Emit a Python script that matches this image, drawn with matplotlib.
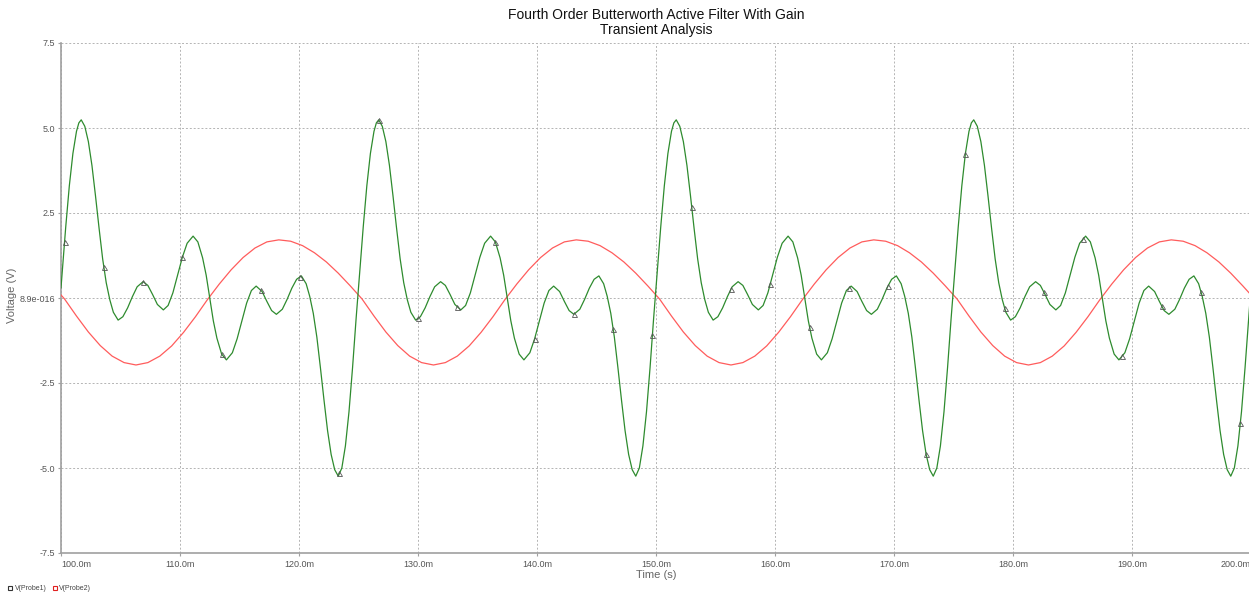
import numpy as np
import matplotlib
matplotlib.use("Agg")
import matplotlib.pyplot as plt
from matplotlib.lines import Line2D

plt.rcParams['font.family'] = ['Liberation Sans', 'DejaVu Sans']

# ---------------- data ----------------
title_text = "Fourth Order Butterworth Active Filter With Gain\nTransient Analysis"
x_label = "Time (s)"
y_label = "Voltage (V)"
series_names = ["V(Probe1)", "V(Probe2)"]

x_ticks = [100, 110, 120, 130, 140, 150, 160, 170, 180, 190, 200]
x_tick_labels = ["100.0m", "110.0m", "120.0m", "130.0m", "140.0m", "150.0m",
                 "160.0m", "170.0m", "180.0m", "190.0m", "200.0m"]
y_ticks = [7.5, 5.0, 2.5, 0.0, -2.5, -5.0, -7.5]
y_tick_labels = ["7.5", "5.0", "2.5", "8.9e-016", "-2.5", "-5.0", "-7.5"]

# Probe1 (filter output, green) - time in ms
green_t = [
    100.0, 100.1, 100.4, 100.7, 101.0, 101.3, 101.5, 101.7, 102.0, 102.3, 102.6, 102.9, 103.2, 103.5, 103.8, 104.1, 104.4,
    104.8, 105.2, 105.6, 106.0, 106.4, 106.9, 107.3, 107.7, 108.1, 108.6, 109.0, 109.4, 109.8, 110.2, 110.6, 111.1, 111.5,
    111.9, 112.2, 112.5, 112.8, 113.1, 113.5, 113.9, 114.4, 114.8, 115.2, 115.6, 116.0, 116.4, 116.9, 117.3, 117.7, 118.1,
    118.6, 119.0, 119.4, 119.8, 120.2, 120.6, 120.9, 121.2, 121.5, 121.8, 122.1, 122.4, 122.7, 123.0,
    123.3, 123.6, 123.9, 124.2, 124.5, 124.8, 125.1, 125.4, 125.7, 126.0, 126.3, 126.5, 126.7, 127.0, 127.3, 127.6, 127.9,
    128.2, 128.5, 128.8, 129.1, 129.4, 129.8, 130.2, 130.6, 131.0, 131.4, 131.9, 132.3, 132.7, 133.1, 133.6, 134.0, 134.4,
    134.8, 135.2, 135.6, 136.1, 136.5, 136.9, 137.2, 137.5, 137.8, 138.1, 138.5, 138.9, 139.4, 139.8, 140.2, 140.6, 141.0,
    141.4, 141.9, 142.3, 142.7, 143.1, 143.6, 144.0, 144.4, 144.8, 145.2, 145.6, 145.9, 146.2, 146.5, 146.8, 147.1, 147.4,
    147.7, 148.0,
    148.3, 148.6, 148.9, 149.2, 149.5, 149.8, 150.1, 150.4, 150.7, 151.0, 151.3, 151.5, 151.7, 152.0, 152.3, 152.6, 152.9,
    153.2, 153.5, 153.8, 154.1, 154.4, 154.8, 155.2, 155.6, 156.0, 156.4, 156.9, 157.3, 157.7, 158.1, 158.6, 159.0, 159.4,
    159.8, 160.2, 160.6, 161.1, 161.5, 161.9, 162.2, 162.5, 162.8, 163.1, 163.5, 163.9, 164.4, 164.8, 165.2, 165.6, 166.0,
    166.4, 166.9, 167.3, 167.7, 168.1, 168.6, 169.0, 169.4, 169.8, 170.2, 170.6, 170.9, 171.2, 171.5, 171.8, 172.1, 172.4,
    172.7, 173.0,
    173.3, 173.6, 173.9, 174.2, 174.5, 174.8, 175.1, 175.4, 175.7, 176.0, 176.3, 176.5, 176.7, 177.0, 177.3, 177.6, 177.9,
    178.2, 178.5, 178.8, 179.1, 179.4, 179.8, 180.2, 180.6, 181.0, 181.4, 181.9, 182.3, 182.7, 183.1, 183.6, 184.0, 184.4,
    184.8, 185.2, 185.6, 186.1, 186.5, 186.9, 187.2, 187.5, 187.8, 188.1, 188.5, 188.9, 189.4, 189.8, 190.2, 190.6, 191.0,
    191.4, 191.9, 192.3, 192.7, 193.1, 193.6, 194.0, 194.4, 194.8, 195.2, 195.6, 195.9, 196.2, 196.5, 196.8, 197.1, 197.4,
    197.7, 198.0,
    198.3, 198.6, 198.9, 199.2, 199.5, 199.8, 200.0,
]
green_v = [
    0.30, 0.75, 2.10, 3.30, 4.25, 4.90, 5.15, 5.24, 5.05, 4.60, 3.90, 3.00, 2.05, 1.15, 0.45, -0.05, -0.42,
    -0.65, -0.55, -0.29, 0.04, 0.33, 0.48, 0.37, 0.10, -0.19, -0.35, -0.22, 0.15, 0.67, 1.20, 1.61, 1.82, 1.65,
    1.18, 0.67, 0.00, -0.67, -1.18, -1.65, -1.82, -1.61, -1.20, -0.67, -0.15, 0.22, 0.35, 0.19, -0.10, -0.37, -0.48,
    -0.33, -0.04, 0.29, 0.55, 0.65, 0.42, 0.05, -0.45, -1.15, -2.05, -3.00, -3.90, -4.60, -5.05,
    -5.24, -5.00, -4.35, -3.35, -2.05, -0.60, 0.75, 2.10, 3.30, 4.25, 4.90, 5.15, 5.24, 5.05, 4.60, 3.90, 3.00,
    2.05, 1.15, 0.45, -0.05, -0.42, -0.65, -0.55, -0.29, 0.04, 0.33, 0.48, 0.37, 0.10, -0.19, -0.35, -0.22, 0.15,
    0.67, 1.20, 1.61, 1.82, 1.65, 1.18, 0.67, 0.00, -0.67, -1.18, -1.65, -1.82, -1.61, -1.20, -0.67, -0.15, 0.22,
    0.35, 0.19, -0.10, -0.37, -0.48, -0.33, -0.04, 0.29, 0.55, 0.65, 0.42, 0.05, -0.45, -1.15, -2.05, -3.00,
    -3.90, -4.60, -5.05,
    -5.24, -5.00, -4.35, -3.35, -2.05, -0.60, 0.75, 2.10, 3.30, 4.25, 4.90, 5.15, 5.24, 5.05, 4.60, 3.90, 3.00,
    2.05, 1.15, 0.45, -0.05, -0.42, -0.65, -0.55, -0.29, 0.04, 0.33, 0.48, 0.37, 0.10, -0.19, -0.35, -0.22, 0.15,
    0.67, 1.20, 1.61, 1.82, 1.65, 1.18, 0.67, 0.00, -0.67, -1.18, -1.65, -1.82, -1.61, -1.20, -0.67, -0.15, 0.22,
    0.35, 0.19, -0.10, -0.37, -0.48, -0.33, -0.04, 0.29, 0.55, 0.65, 0.42, 0.05, -0.45, -1.15, -2.05, -3.00,
    -3.90, -4.60, -5.05,
    -5.24, -5.00, -4.35, -3.35, -2.05, -0.60, 0.75, 2.10, 3.30, 4.25, 4.90, 5.15, 5.24, 5.05, 4.60, 3.90, 3.00,
    2.05, 1.15, 0.45, -0.05, -0.42, -0.65, -0.55, -0.29, 0.04, 0.33, 0.48, 0.37, 0.10, -0.19, -0.35, -0.22, 0.15,
    0.67, 1.20, 1.61, 1.82, 1.65, 1.18, 0.67, 0.00, -0.67, -1.18, -1.65, -1.82, -1.61, -1.20, -0.67, -0.15, 0.22,
    0.35, 0.19, -0.10, -0.37, -0.48, -0.33, -0.04, 0.29, 0.55, 0.65, 0.42, 0.05, -0.45, -1.15, -2.05, -3.00,
    -3.90, -4.60, -5.05,
    -5.24, -5.00, -4.35, -3.35, -2.05, -0.60, 0.30,
]

# sample points marked with triangles on Probe1
marker_t = [100.3, 103.6, 106.9, 110.2, 113.5, 116.8, 120.1, 123.4, 126.7, 130.0, 133.3, 136.5, 139.8,
            143.1, 146.4, 149.7, 153.0, 156.3, 159.6, 162.9, 166.2, 169.5, 172.7, 176.0, 179.3, 182.6,
            185.9, 189.2, 192.5, 195.8, 199.1]

# Probe2 (input sine, red)
red_t = [100.0] + [100.3 + k for k in range(100)] + [200.0]
red_v = [
    0.09,
    -0.03, -0.53, -1.00, -1.40, -1.71, -1.90, -1.97, -1.90, -1.71, -1.41, -1.01, -0.55, -0.05, 0.41, 0.83, 1.19, 1.47, 1.65,
    1.71, 1.67, 1.54, 1.33, 1.06, 0.73, 0.36, -0.03, -0.53, -1.00, -1.40, -1.71, -1.90, -1.97, -1.90, -1.71, -1.41, -1.01,
    -0.55, -0.05, 0.41, 0.83, 1.19, 1.47, 1.65,
    1.71, 1.67, 1.54, 1.33, 1.06, 0.73, 0.36, -0.03, -0.53, -1.00, -1.40, -1.71, -1.90, -1.97, -1.90, -1.71, -1.41, -1.01,
    -0.55, -0.05, 0.41, 0.83, 1.19, 1.47, 1.65,
    1.71, 1.67, 1.54, 1.33, 1.06, 0.73, 0.36, -0.03, -0.53, -1.00, -1.40, -1.71, -1.90, -1.97, -1.90, -1.71, -1.41, -1.01,
    -0.55, -0.05, 0.41, 0.83, 1.19, 1.47, 1.65,
    1.71, 1.67, 1.54, 1.33, 1.06, 0.73, 0.36,
    0.09,
]

# ---------------- drawing ----------------
W, H = 1249, 598
fig = plt.figure(figsize=(W / 100, H / 100), dpi=100)
ax_left, ax_right, ax_top, ax_bottom = 61, 1251, 43, 553
ax = fig.add_axes([ax_left / W, 1 - ax_bottom / H, (ax_right - ax_left) / W, (ax_bottom - ax_top) / H])

green_col = "#2e8b2e"
red_col = "#ff5c5c"
grey = "#8c8c8c"

ax.plot(red_t, red_v, color=red_col, lw=0.9, zorder=3)
ax.plot(green_t, green_v, color=green_col, lw=0.9, zorder=4)
marker_v = np.interp(marker_t, green_t, green_v)
ax.plot(marker_t, marker_v, linestyle="none", marker="^", markersize=3.6,
        markerfacecolor="none", markeredgecolor="#555555", markeredgewidth=0.6, zorder=5)

ax.set_xlim(100, 200)
ax.set_ylim(-7.5, 7.5)
ax.set_xticks(x_ticks)
ax.set_xticklabels(x_tick_labels)
ax.set_yticks(y_ticks)
ax.set_yticklabels(y_tick_labels)

ax.grid(True, color="#b4b4b4", linestyle=(0, (2, 2)), linewidth=0.7)
for s in ["top", "right"]:
    ax.spines[s].set_visible(False)
for s in ["left", "bottom"]:
    ax.spines[s].set_color("#a0a0a0")
    ax.spines[s].set_linewidth(1.2)

ax.tick_params(axis="both", colors="#a0a0a0", labelcolor="#555555", labelsize=6.5, length=2, width=0.8)
ax.tick_params(axis="x", pad=3)
ax.tick_params(axis="y", pad=2)
xl = ax.get_xticklabels()
xl[0].set_horizontalalignment("left")
xl[-1].set_horizontalalignment("right")

ax.set_xlabel(x_label, fontsize=8, color="#666666", labelpad=1)
fig.text(12 / W, 1 - 295 / H, y_label, rotation=90, fontsize=8, color="#666666", ha="center", va="center")
fig.text(656 / W, 1 - 8 / H, title_text, ha="center", va="top", fontsize=10, color="#111111", linespacing=1.1)

# legend (bottom-left, tiny)
handles = [
    Line2D([], [], linestyle="none", marker="s", markersize=3.5, markerfacecolor="none",
           markeredgecolor="#333333", markeredgewidth=0.8),
    Line2D([], [], linestyle="none", marker="s", markersize=3.5, markerfacecolor="none",
           markeredgecolor="#e02020", markeredgewidth=0.8),
]
fig.legend(handles, series_names, loc="lower left", bbox_to_anchor=(2 / W, 0.0), ncol=2, frameon=False,
           fontsize=5, handlelength=0.8, handletextpad=0.2, columnspacing=0.8, borderpad=0.3,
           labelcolor="#444444")

fig.savefig("out.png", dpi=100)
